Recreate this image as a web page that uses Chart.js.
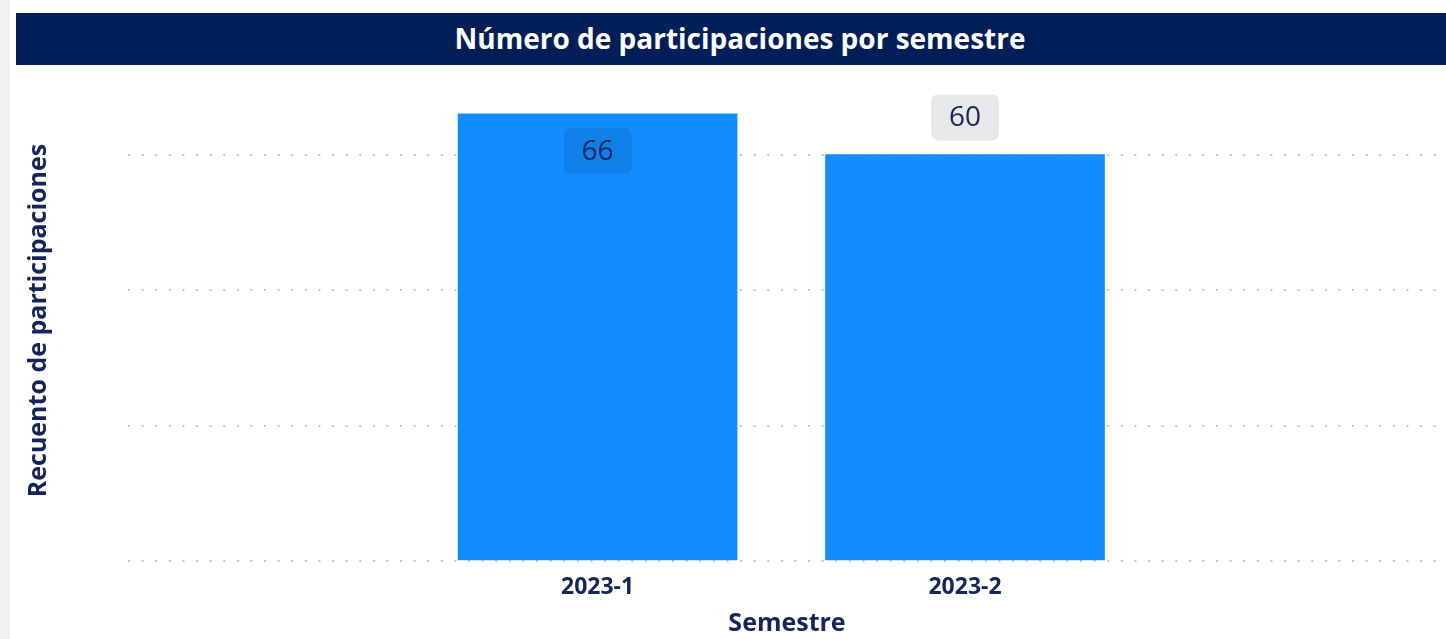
<!DOCTYPE html>
<html>
<head>
<meta charset="utf-8">
<script src="https://cdn.jsdelivr.net/npm/chart.js@4.4.1/dist/chart.umd.min.js"></script>
<style>
  html, body { margin:0; padding:0; background:#ffffff; }
  body { width:1446px; height:639px; position:relative; overflow:hidden; font-family:"Open Sans", sans-serif; }
  #strip { position:absolute; left:0; top:0; width:10px; height:639px; background:#f1f2f4; }
  #title { position:absolute; left:16px; top:13px; width:1430px; height:52px; background:#001e57; box-sizing:border-box;
           padding-left:18px; color:#ffffff; font-weight:700; font-size:28px; line-height:50px; text-align:center; z-index:2; }
  #wrap { position:absolute; left:0; top:0; width:1446px; height:639px; }
</style>
</head>
<body>
<div id="strip"></div>
<div id="wrap"><canvas id="c" width="1446" height="639"></canvas></div>
<div id="title">Número de participaciones por semestre</div>
<script>
const categories = ['2023-1', '2023-2'];
const values = [66, 60];
const gridTicks = [0, 20, 40, 60];

const NAVY = '#15245a';
const BAR = '#118dff';

const labelPlugin = {
  id: 'pbiLabels',
  afterDatasetsDraw(chart) {
    const ctx = chart.ctx;
    const meta = chart.getDatasetMeta(0);
    const area = chart.chartArea;
    ctx.save();
    ctx.font = '400 28px "Open Sans", sans-serif';
    ctx.textAlign = 'center';
    ctx.textBaseline = 'middle';
    meta.data.forEach((bar, i) => {
      const txt = String(values[i]);
      const w = ctx.measureText(txt).width + 36;
      const h = 46;
      const gap = 14;
      let top, fill;
      if (bar.y - gap - h < area.top) {
        top = bar.y + gap;
        fill = 'rgba(0,0,0,0.09)';
      } else {
        top = bar.y - gap - h;
        fill = '#e8e8e8';
      }
      const left = bar.x - w / 2;
      ctx.fillStyle = fill;
      ctx.beginPath();
      ctx.roundRect(left, top, w, h, 7);
      ctx.fill();
      ctx.fillStyle = NAVY;
      ctx.fillText(txt, bar.x, top + h / 2 + 1);
    });
    ctx.restore();
  }
};

new Chart(document.getElementById('c'), {
  type: 'bar',
  data: {
    datasets: [{
      data: categories.map((c, i) => ({ x: i, y: values[i] })),
      backgroundColor: BAR,
      borderWidth: 0,
      barThickness: 279
    }]
  },
  options: {
    responsive: false,
    animation: false,
    layout: { padding: { left: 0, right: 0, top: 80, bottom: 0 } },
    plugins: { legend: { display: false }, tooltip: { enabled: false }, title: { display: false } },
    scales: {
      x: {
        type: 'linear',
        offset: false,
        min: -1.278,
        max: 2.309,
        afterBuildTicks(axis) { axis.ticks = categories.map((c, i) => ({ value: i })); },
        afterFit(axis) { axis.height = 78; },
        grid: { display: false, drawTicks: false },
        border: { display: false },
        ticks: {
          callback: (v) => categories[v],
          color: NAVY,
          font: { family: '"Open Sans", sans-serif', size: 23, weight: '700' },
          padding: 13,
          maxRotation: 0,
          autoSkip: false
        },
        title: {
          display: true,
          text: 'Semestre',
          color: NAVY,
          font: { family: '"Open Sans", sans-serif', size: 25, weight: '700' },
          padding: { top: -6, bottom: 0 }
        }
      },
      y: {
        min: 0,
        max: 71,
        afterBuildTicks(axis) { axis.ticks = gridTicks.map(v => ({ value: v })); },
        afterFit(axis) { axis.width = 128; },
        grid: { color: '#c4c4c4', lineWidth: 2, drawTicks: false },
        border: { display: false, dash: [2, 11.6] },
        ticks: { display: false },
        title: {
          display: true,
          text: 'Recuento de participaciones',
          color: NAVY,
          font: { family: '"Open Sans", sans-serif', size: 25, weight: '700' },
          padding: { top: 24, bottom: 0 }
        }
      }
    }
  },
  plugins: [labelPlugin]
});
</script>
</body>
</html>
